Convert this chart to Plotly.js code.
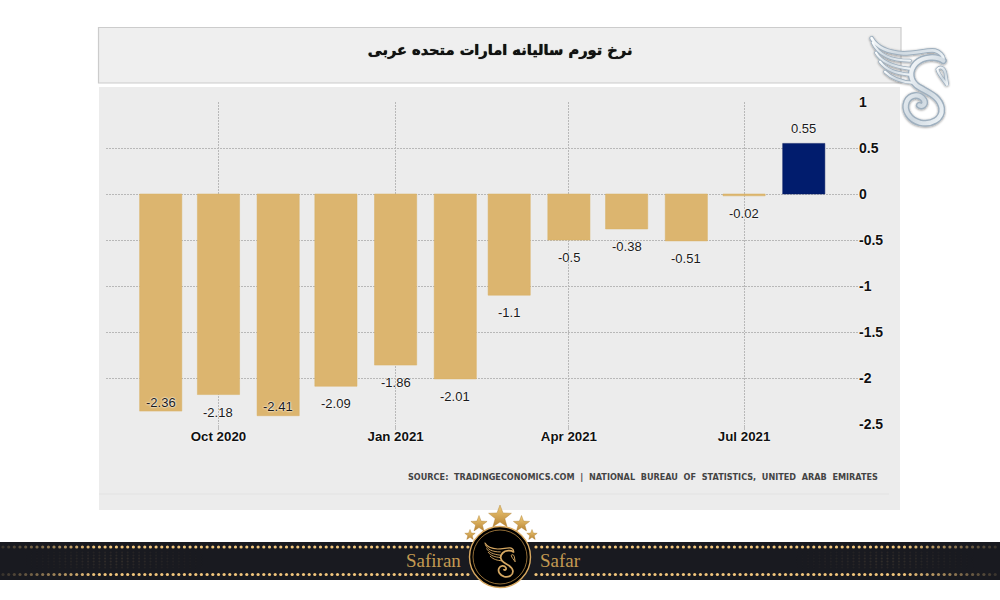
<!DOCTYPE html>
<html><head><meta charset="utf-8">
<script src="https://cdn.plot.ly/plotly-3.0.1.min.js"></script>
<style>html,body{margin:0;padding:0;background:#fff}#c{width:1000px;height:600px}</style>
</head><body><div id="c"></div>
<script>
const months = ['2020-09-01','2020-10-01','2020-11-01','2020-12-01','2021-01-01','2021-02-01','2021-03-01','2021-04-01','2021-05-01','2021-06-01','2021-07-01','2021-08-01'];
const inflation = [-2.36,-2.18,-2.41,-2.09,-1.86,-2.01,-1.1,-0.5,-0.38,-0.51,-0.02,0.55];
const xTickVals = ['2020-10-01','2021-01-01','2021-04-01','2021-07-01'];
const xTickText = ['Oct 2020','Jan 2021','Apr 2021','Jul 2021'];
const yTickVals = [1,0.5,0,-0.5,-1,-1.5,-2,-2.5];
const yTickText = ['1','0.5','0','-0.5','-1','-1.5','-2','-2.5'];
const titleText = 'نرخ تورم سالیانه امارات متحده عربی';
const sourceText = 'SOURCE:  TRADINGECONOMICS.COM  |  NATIONAL  BUREAU  OF  STATISTICS,  UNITED  ARAB  EMIRATES';

const GOLD='#dcb56f', NAVY='#011c6d', GRID='#b8b8b8';
const halo='0 0 2px #fff, 0 0 2px #fff';
const W=1000,H=600,L=106,R=858,T=102,B=424;
const mx=(v)=>(v-L)/(R-L), my=(v)=>(B-v)/(B-T);
const FONT='"Liberation Sans",Arial,sans-serif';

/* decorative artwork: silver wing logo, ribbon, emblem, stars */
function wingPaths(stroke,w){
  const feathers=['M35 25C55 60 100 68 130 70C170 70 205 58 225 62C240 66 250 78 250 85',
   'M38 38C55 75 90 92 150 92','M48 68C65 98 100 110 148 116','M60 95C80 122 110 130 148 134','M75 125C100 150 130 156 158 158'];
  const s='M250 92C232 78 190 78 168 100C145 124 150 155 178 172C205 188 240 200 245 235C248 268 215 285 180 278C148 270 130 240 140 215C150 192 180 190 192 210C198 222 188 232 178 226';
  const head='M232 118C240 108 252 112 256 128L262 166C252 150 236 135 232 118Z';
  return feathers.map((d,i)=>`<path d="${d}" fill="none" stroke="${stroke}" stroke-width="${i==0?w*1.3:w}" stroke-linecap="round"/>`).join('')
   +`<path d="${s}" fill="none" stroke="${stroke}" stroke-width="${w*1.9}" stroke-linecap="round"/>`
   +`<path d="${head}" fill="none" stroke="${stroke}" stroke-width="${w}"/>`;
}
function star(cx,cy,r){
  let p=[];for(let i=0;i<10;i++){const a=-Math.PI/2+i*Math.PI/5,q=i%2?r*0.42:r;p.push((cx+q*Math.cos(a)).toFixed(1)+','+(cy+q*Math.sin(a)).toFixed(1));}
  return `<polygon points="${p.join(' ')}" fill="url(#g)" stroke="#a9782c" stroke-width=".4"/>`;
}
function ribbonDots(){
  let o='';
  for(let x=3;x<1000;x+=5.67){
    const edge=Math.min(x,1000-x),op=Math.min(1,0.12+edge/110);
    if(x>468&&x<532)continue;
    o+=`<circle cx="${x.toFixed(1)}" cy="547" r="1.6" fill="#f2c67c" opacity="${op.toFixed(2)}"/><circle cx="${x.toFixed(1)}" cy="574.5" r="1.6" fill="#f2c67c" opacity="${op.toFixed(2)}"/>`;
    const band=Math.max(0,1-Math.abs(edge-115)/95);
    if(band>0)for(const y of [552.5,555.5,558.5,561.5,564.5,567.5])
      o+=`<circle cx="${x.toFixed(1)}" cy="${y}" r="1.1" fill="#c9a36a" opacity="${(band*0.16*(1-Math.abs(y-560)/16)).toFixed(3)}"/>`;
  }
  return o;
}
const art=`<svg xmlns="http://www.w3.org/2000/svg" width="1000" height="600" viewBox="0 0 1000 600" preserveAspectRatio="none">
<defs>
<linearGradient id="s" x1="0" y1="0" x2="1" y2="1"><stop offset="0" stop-color="#fbfdfe"/><stop offset=".55" stop-color="#cfd9e1"/><stop offset="1" stop-color="#f0f5f8"/></linearGradient>
<linearGradient id="g" x1="0" y1="0" x2="0" y2="1"><stop offset="0" stop-color="#f0cc7a"/><stop offset="1" stop-color="#b88434"/></linearGradient>
<filter id="d" x="-20%" y="-20%" width="140%" height="140%"><feDropShadow dx="0" dy="2" stdDeviation="2.4" flood-color="#000" flood-opacity=".45"/></filter>
</defs>
<rect x="0" y="542" width="1000" height="38" fill="#191a20"/>
${ribbonDots()}
<circle cx="500" cy="557" r="30.5" fill="#000" stroke="#d8a860" stroke-width="1.4"/>
<circle cx="500" cy="557" r="27" fill="none" stroke="#b98a45" stroke-width=".8"/>
<g transform="translate(480.3 539.7) scale(.133)">${wingPaths('#d6a862',7)}</g>
${star(500,517,12)}${star(479,524,8.5)}${star(521.5,524,8.5)}${star(470,535,5.5)}${star(532,535,5.5)}
<g transform="translate(860 30) scale(.3333)"><g filter="url(#d)">${wingPaths('#9fb0bf',11)}</g>${wingPaths('url(#s)',6.5)}</g>
</svg>`;

const trace={type:'bar',x:months,y:inflation,width:21.9*86400000,
  marker:{color:inflation.map(v=>v<0?GOLD:NAVY),line:{width:0.5,color:inflation.map(v=>v<0?'#d9b063':'#00165c')}},
  hoverinfo:'x+y',showlegend:false};

const labels=months.map((m,i)=>{const v=inflation[i];return {
  x:m,y:v,xref:'x',yref:'y',text:String(v),showarrow:false,
  yshift:v>0?15:(v<-2.3?9:-17.5),xanchor:'center',yanchor:'middle',
  font:{family:FONT,size:13,color:'#1a1a1a',shadow:halo}};});

const shapes=[
  {type:'rect',xref:'paper',yref:'paper',x0:mx(98.5),x1:mx(901),y0:my(83),y1:my(27.5),fillcolor:'#efefef',line:{width:1.2,color:'#cccccc'},layer:'below'},
  {type:'rect',xref:'paper',yref:'paper',x0:mx(99),x1:mx(900),y0:my(510),y1:my(87),fillcolor:'#ececec',line:{width:0},layer:'below'},
  {type:'line',xref:'paper',yref:'paper',x0:mx(99),x1:mx(889),y0:my(494),y1:my(494),line:{width:1.2,color:'#e2e2e2'},layer:'below'}
];

const layout={
  width:W,height:H,paper_bgcolor:'#fff',plot_bgcolor:'rgba(0,0,0,0)',
  margin:{l:L,r:W-R,t:T,b:H-B,autoexpand:false},
  bargap:0,showlegend:false,
  title:{text:titleText,x:0.5,xanchor:'center',xref:'container',y:1-50/H,yanchor:'middle',yref:'container',
    font:{family:'"DejaVu Sans",sans-serif',size:14.6,weight:700,color:'#111',shadow:'0 0 .7px #000'}},
  xaxis:{type:'date',range:['2020-08-03 14:00','2021-08-29 04:00'],tickmode:'array',tickvals:xTickVals,ticktext:xTickText,
    showgrid:true,gridcolor:GRID,griddash:'2px,1px',gridwidth:1,zeroline:false,showline:false,
    ticks:'outside',ticklen:5,tickcolor:'#bdbdbd',tickwidth:1,ticklabelstandoff:-5,
    tickfont:{family:FONT,size:13.3,weight:700,color:'#111',shadow:halo}},
  yaxis:{side:'right',range:[-2.5,1],tickmode:'array',tickvals:yTickVals,ticktext:yTickText,
    showgrid:true,gridcolor:GRID,griddash:'2px,1px',gridwidth:1,zeroline:false,showline:false,ticks:'',
    tickfont:{family:FONT,size:14,weight:700,color:'#111',shadow:halo}},
  shapes:shapes,
  images:[{source:'data:image/svg+xml;charset=utf-8,'+encodeURIComponent(art),xref:'paper',yref:'paper',x:mx(0),y:my(0),sizex:mx(W)-mx(0),sizey:my(0)-my(H),sizing:'stretch',xanchor:'left',yanchor:'top',layer:'above'}],
  annotations:labels.concat([
    {xref:'paper',yref:'paper',x:mx(880),y:my(476.5),xanchor:'right',yanchor:'middle',showarrow:false,text:sourceText,
     font:{family:'"DejaVu Sans",sans-serif',size:8.15,weight:700,color:'#444'}},
    {xref:'paper',yref:'paper',x:mx(433),y:my(560),xanchor:'center',yanchor:'middle',showarrow:false,text:'Safiran',
     font:{family:'"Liberation Serif",serif',size:19,color:'#c49a52'}},
    {xref:'paper',yref:'paper',x:mx(560),y:my(560),xanchor:'center',yanchor:'middle',showarrow:false,text:'Safar',
     font:{family:'"Liberation Serif",serif',size:19,color:'#c49a52'}}
  ])
};
Plotly.newPlot('c',[trace],layout,{displayModeBar:false,staticPlot:true});
</script></body></html>
